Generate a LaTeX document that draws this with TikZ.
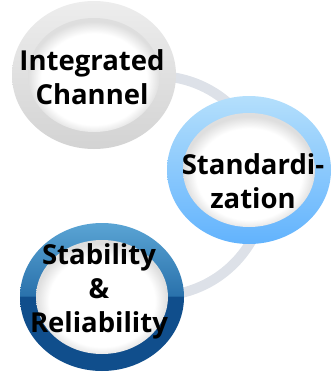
\documentclass[tikz,border=0pt]{standalone}
\usepackage{fontspec}
\setmainfont{Open Sans}
\usepackage{tikz}
\usetikzlibrary{shapes}
\definecolor{bandgray}{HTML}{DDE1E8}
\definecolor{grayTop}{HTML}{EDEDED}
\definecolor{grayBot}{HTML}{D3D3D3}
\definecolor{skyTop}{HTML}{B4DFFC}
\definecolor{skyBot}{HTML}{62B3FD}
\definecolor{navyTop}{HTML}{5AA4D4}
\definecolor{navyMid}{HTML}{2A72AC}
\definecolor{navyDk}{HTML}{104E8C}
\pgfdeclareverticalshading{navyring}{100bp}{color(0bp)=(navyDk); color(25bp)=(navyDk); color(50bp)=(navyDk); color(50.5bp)=(navyMid); color(75bp)=(navyTop); color(100bp)=(navyTop)}
\pgfdeclareradialshading{glow}{\pgfpoint{0bp}{-3bp}}{color(0bp)=(white); color(20bp)=(white); color(25bp)=(black!13); color(50bp)=(black!13)}
\begin{document}
\begin{tikzpicture}[x=1pt,y=1pt,
	ring/.style={ellipse,minimum width=164pt,minimum height=148pt,inner sep=0pt},
	hole/.style={ellipse,minimum width=132pt,minimum height=114pt,inner sep=0pt,shading=glow},
	lbl/.style={align=center,font=\fontsize{27.5}{34}\selectfont\bfseries,inner sep=0pt},
	band/.style={draw=bandgray,line width=10pt}]
\useasboundingbox (0,0) rectangle (332,-372);
\coordinate (bandc) at (156,-186);
\draw[band] ([shift={(100:110)}]bandc) arc[start angle=100,end angle=-100,radius=110];
\node[ring,top color=grayTop,bottom color=grayBot] (chanring) at (94,-75) {};
\node[hole] (chanhole) at (chanring) {};
\node[ring,top color=skyTop,bottom color=skyBot] (stdring) at (249,-170) {};
\node[hole] (stdhole) at (stdring) {};
\node[ring,shading=navyring] (stabring) at (102,-297) {};
\node[hole] (stabhole) at (stabring) {};
\node[lbl] (chan) at (92,-77) {Integrated\\Channel};
\node[lbl] (std) at (253,-181) {Standardi-\\zation};
\node[lbl] (stab) at (99,-291) {Stability\\\&\\Reliability};
\end{tikzpicture}
\end{document}
